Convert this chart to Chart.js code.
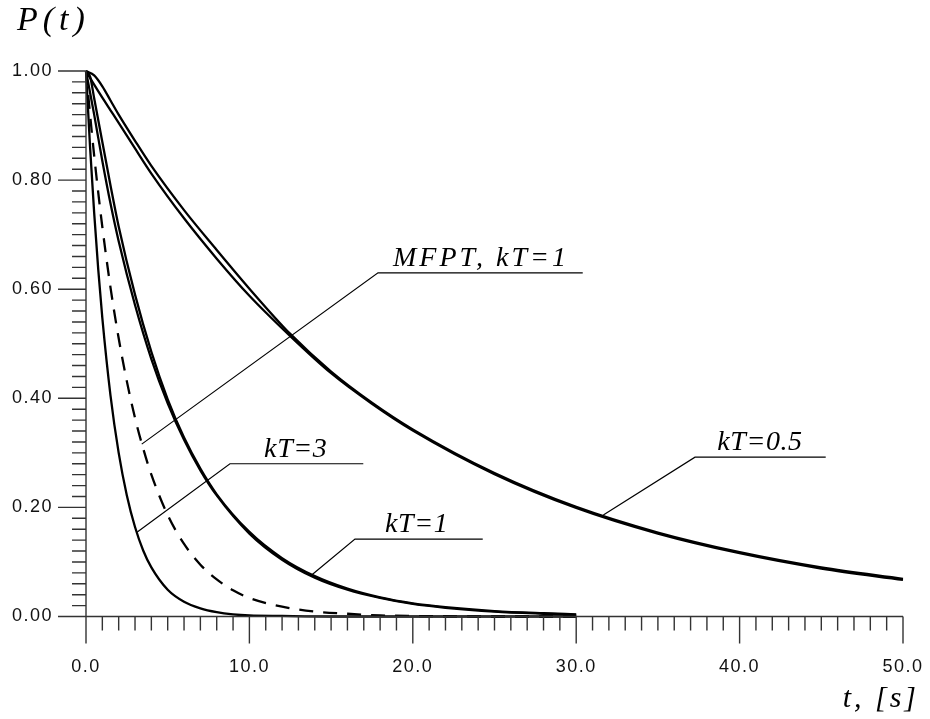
<!DOCTYPE html>
<html>
<head>
<meta charset="utf-8">
<script src="https://cdn.jsdelivr.net/npm/chart.js@4.4.1/dist/chart.umd.min.js"></script>
<style>
  html, body { margin: 0; padding: 0; background: #fff; }
  canvas { display: block; }
</style>
</head>
<body>
<canvas id="chart" width="930" height="719"></canvas>
<script>
// --- data ---
const tSlow = [0, 0.5, 1, 1.5, 2, 3, 4, 6, 8, 10, 12.5, 15, 17.5, 20, 25, 30, 35, 40, 45, 50];
const kT05Upper = [1.000, 0.992, 0.972, 0.946, 0.920, 0.872, 0.826, 0.745, 0.672, 0.601, 0.518, 0.449, 0.392, 0.343, 0.263, 0.201, 0.154, 0.118, 0.090, 0.069];
const kT05Lower = [1.000, 0.975, 0.951, 0.928, 0.905, 0.858, 0.812, 0.730, 0.656, 0.588, 0.514, 0.446, 0.390, 0.341, 0.261, 0.199, 0.152, 0.116, 0.088, 0.067];

const tMid = [0, 0.25, 0.5, 1, 1.5, 2, 3, 4, 5, 6, 7, 8, 10, 12, 14, 16, 18, 20, 22, 25, 28, 30];
const kT1Upper = [1.000, 0.990, 0.950, 0.870, 0.790, 0.715, 0.590, 0.485, 0.398, 0.328, 0.271, 0.224, 0.155, 0.107, 0.074, 0.051, 0.035, 0.024, 0.017, 0.010, 0.006, 0.004];
const kT1Lower = [1.000, 0.960, 0.920, 0.835, 0.757, 0.688, 0.571, 0.472, 0.391, 0.324, 0.268, 0.222, 0.152, 0.104, 0.071, 0.049, 0.034, 0.023, 0.016, 0.009, 0.005, 0.003];

const tFast = [0, 0.25, 0.5, 0.75, 1, 1.5, 2, 2.5, 3, 3.5, 4, 5, 6, 7, 8, 9, 10, 12, 15, 20, 25, 30];
const kT3 = [1.000, 0.860, 0.740, 0.636, 0.547, 0.405, 0.300, 0.222, 0.164, 0.121, 0.090, 0.049, 0.027, 0.015, 0.008, 0.004, 0.002, 0.001, 0, 0, 0, 0];

const tMfpt = [0, 0.25, 0.5, 0.75, 1, 1.5, 2, 2.5, 3, 3.5, 4, 5, 6, 7, 8, 9, 10, 12, 14, 16, 18, 20, 25, 30];
const mfptKT1 = [1.000, 0.920, 0.845, 0.777, 0.714, 0.603, 0.510, 0.431, 0.364, 0.308, 0.260, 0.186, 0.133, 0.095, 0.068, 0.048, 0.034, 0.018, 0.009, 0.005, 0.002, 0.001, 0, 0];

// axis ranges and tick steps
const xRange = [0, 50], xMajor = 10, xMinor = 1;
const yRange = [0, 1], yMajor = 0.2, yMinor = 0.02;
const xTitle = 't, [s]';
const yTitle = 'P(t)';

// callout labels: text, curve point, elbow point, end of underline, text start (data units)
const labelTexts = ['MFPT, kT=1', 'kT=3', 'kT=1', 'kT=0.5'];
const labelTips = [[3.41, 0.316], [3.14, 0.155], [13.81, 0.076], [31.66, 0.186]];
const labelElbows = [[17.87, 0.630], [8.81, 0.280], [16.46, 0.142], [37.27, 0.292]];
const labelEnds = [30.4, 16.97, 24.28, 45.27];
const labelStarts = [18.79, 10.9, 18.3, 38.63];

const pts = (xs, ys) => xs.map((x, i) => ({ x: x, y: ys[i] }));

function curve(data, dashed) {
    return {
        data: data,
        borderColor: '#000',
        borderWidth: 2.3,
        borderDash: dashed ? [14, 10] : [],
        pointRadius: 0,
        fill: false,
        cubicInterpolationMode: 'monotone',
        clip: 10
    };
}

const SANS = '"Liberation Sans", Arial, sans-serif';
const SERIF = '"Liberation Serif", "Times New Roman", serif';

// ticks, axis lines, titles and callouts
const frame = {
    id: 'frame',
    beforeDraw(chart) {
        chart.ctx.letterSpacing = '1.5px';
    },
    afterDraw(chart) {
        const { ctx, chartArea: a, scales: { x, y } } = chart;
        ctx.save();
        ctx.letterSpacing = '0px';
        ctx.strokeStyle = '#333';
        ctx.lineWidth = 1.4;
        ctx.beginPath();
        ctx.moveTo(a.left, a.top);
        ctx.lineTo(a.left, a.bottom);
        ctx.lineTo(a.right, a.bottom);

        const nx = Math.round((xRange[1] - xRange[0]) / xMinor);
        const perMajorX = Math.round(xMajor / xMinor);
        for (let i = 0; i <= nx; i++) {
            const px = x.getPixelForValue(xRange[0] + i * xMinor);
            const len = i % perMajorX === 0 ? 27 : 14;
            ctx.moveTo(px, a.bottom);
            ctx.lineTo(px, a.bottom + len);
        }
        const ny = Math.round((yRange[1] - yRange[0]) / yMinor);
        const perMajorY = Math.round(yMajor / yMinor);
        for (let i = 0; i <= ny; i++) {
            const py = y.getPixelForValue(yRange[0] + i * yMinor);
            const len = i % perMajorY === 0 ? 28 : 14;
            ctx.moveTo(a.left, py);
            ctx.lineTo(a.left - len, py);
        }
        ctx.stroke();

        // callouts
        ctx.strokeStyle = '#000';
        ctx.lineWidth = 1.2;
        ctx.fillStyle = '#000';
        ctx.font = 'italic 28px ' + SERIF;
        ctx.textAlign = 'left';
        ctx.textBaseline = 'alphabetic';
        labelTexts.forEach((text, i) => {
            const tx = x.getPixelForValue(labelTips[i][0]);
            const ty = y.getPixelForValue(labelTips[i][1]);
            const ex = x.getPixelForValue(labelElbows[i][0]);
            const ey = y.getPixelForValue(labelElbows[i][1]);
            const endX = x.getPixelForValue(labelEnds[i]);
            ctx.beginPath();
            ctx.moveTo(tx, ty);
            ctx.lineTo(ex, ey);
            ctx.lineTo(endX, ey);
            ctx.stroke();
            ctx.letterSpacing = i === 0 ? '3px' : '0.6px';
            ctx.fillText(text, x.getPixelForValue(labelStarts[i]), ey - 7);
        });

        // axis titles
        ctx.font = 'italic 34px ' + SERIF;
        ctx.letterSpacing = '5px';
        ctx.fillText(yTitle, 17, 30);
        ctx.font = 'italic 30px ' + SERIF;
        ctx.letterSpacing = '3px';
        ctx.textAlign = 'right';
        ctx.fillText(xTitle, 919, 707);
        ctx.restore();
    }
};

new Chart(document.getElementById('chart'), {
    type: 'line',
    data: {
        datasets: [
            curve(pts(tSlow, kT05Upper)),
            curve(pts(tSlow, kT05Lower)),
            curve(pts(tMid, kT1Upper)),
            curve(pts(tMid, kT1Lower)),
            curve(pts(tFast, kT3)),
            curve(pts(tMfpt, mfptKT1), true)
        ]
    },
    options: {
        responsive: false,
        animation: false,
        events: [],
        layout: { padding: { left: 0, right: 27, top: 71, bottom: 0 } },
        plugins: {
            legend: { display: false },
            tooltip: { enabled: false }
        },
        scales: {
            x: {
                type: 'linear',
                min: xRange[0],
                max: xRange[1],
                afterFit: (scale) => {
                    scale.height = 102.5;
                    scale.paddingLeft = 0;
                    scale.paddingRight = 0;
                },
                grid: { display: false, drawTicks: false },
                border: { display: false },
                ticks: {
                    stepSize: xMajor,
                    maxRotation: 0,
                    autoSkip: false,
                    padding: 40,
                    color: '#111',
                    font: { family: SANS, size: 18 },
                    callback: (v) => v.toFixed(1)
                }
            },
            y: {
                type: 'linear',
                min: yRange[0],
                max: yRange[1],
                afterFit: (scale) => { scale.width = 86; },
                grid: { display: false, drawTicks: false },
                border: { display: false },
                ticks: {
                    stepSize: yMajor,
                    autoSkip: false,
                    padding: 33,
                    color: '#111',
                    font: { family: SANS, size: 18 },
                    callback: (v) => v.toFixed(2)
                }
            }
        }
    },
    plugins: [frame]
});
</script>
</body>
</html>
